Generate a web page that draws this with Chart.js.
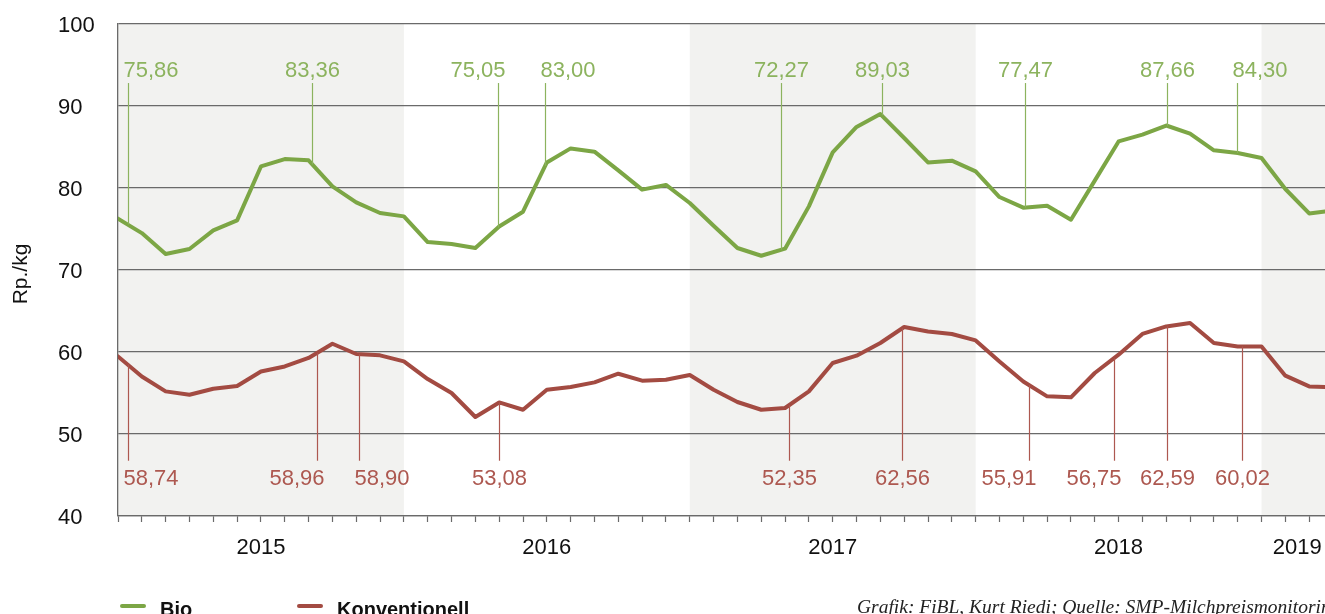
<!DOCTYPE html>
<html>
<head>
<meta charset="utf-8">
<script src="https://cdn.jsdelivr.net/npm/chart.js@4/dist/chart.umd.min.js"></script>
<style>
  html, body { margin: 0; padding: 0; background: #fff; overflow: hidden; width: 1325px; height: 614px; }
  #wrap { position: relative; width: 1325px; height: 614px; overflow: hidden; }
  canvas { position: absolute; left: 0; top: 0; }
  .leg { position: absolute; font-family: "Liberation Sans", Arial, sans-serif; font-weight: bold; font-size: 20px; line-height: 20px; color: #111; white-space: nowrap; }
  .sw { position: absolute; height: 4px; width: 26px; border-radius: 2px; }
  .src { position: absolute; left: 857px; top: 597px; font-family: "Liberation Serif", "DejaVu Serif", serif; font-style: italic; font-size: 19.5px; line-height: 20px; color: #222; white-space: nowrap; }
</style>
</head>
<body>
<div id="wrap">
  <canvas id="c" width="1346" height="614"></canvas>
  <div class="sw" style="left:120px; top:604px; background:#7ca645;"></div>
  <div class="leg" style="left:160px; top:599px;">Bio</div>
  <div class="sw" style="left:297px; top:604px; background:#a34b42;"></div>
  <div class="leg" style="left:337px; top:599px;">Konventionell</div>
  <div class="src">Grafik: FiBL, Kurt Riedi; Quelle: SMP-Milchpreismonitoring</div>
</div>
<script>
// Monthly milk prices (Rp./kg), January 2015 onward (index 0 = Jan 2015)
const bio = [76.26, 74.5, 71.95, 72.56, 74.83, 76.05, 82.63, 83.53, 83.37, 80.2, 78.25, 76.95,
             76.54, 73.41, 73.17, 72.68, 75.3, 77.11, 83.12, 84.83, 84.43, 82.15, 79.8, 80.37,
             78.17, 75.4, 72.68, 71.74, 72.6, 77.76, 84.35, 87.44, 89.02, 86.1, 83.12, 83.33,
             82.03, 78.9, 77.6, 77.84, 76.13, 80.9, 85.68, 86.5, 87.62, 86.62, 84.59, 84.27,
             83.66, 79.88, 76.9, 77.25];
const konventionell = [59.46, 57.02, 55.2, 54.79, 55.52, 55.85, 57.63, 58.24, 59.27, 61.01, 59.76, 59.59,
             58.85, 56.7, 55.0, 52.07, 53.85, 52.96, 55.4, 55.73, 56.3, 57.35, 56.5, 56.62,
             57.2, 55.4, 53.9, 52.96, 53.17, 55.2, 58.66, 59.55, 61.1, 63.05, 62.51, 62.2,
             61.41, 58.85, 56.41, 54.59, 54.47, 57.44, 59.67, 62.2, 63.12, 63.54, 61.1, 60.68,
             60.68, 57.11, 55.8, 55.7];

// Year labels and their month-index positions
const yearLabels = ['2015', '2016', '2017', '2018', '2019'];
const yearPos = [6, 18, 30, 42, 49.5];
// Shaded year bands (start month index, 12 months each)
const bandStarts = [0, 24, 48];

// Value annotations
const bioAnnX = [0.40, 8.16, 15.95, 17.93, 27.85, 32.05, 38.09, 44.03, 46.98];
const bioAnnText = ['75,86', '83,36', '75,05', '83,00', '72,27', '89,03', '77,47', '87,66', '84,30'];
const bioAnnAlign = ['left', 'center', 'right', 'left', 'center', 'center', 'center', 'center', 'left'];
const konvAnnX = [0.40, 8.34, 10.13, 16.01, 28.17, 32.92, 38.23, 41.80, 44.03, 47.19];
const konvAnnText = ['58,74', '58,96', '58,90', '53,08', '52,35', '62,56', '55,91', '56,75', '62,59', '60,02'];
const konvAnnAlign = ['left', 'right', 'left', 'center', 'center', 'center', 'right', 'right', 'center', 'center'];

const yTicks = [40, 50, 60, 70, 80, 90, 100];

const GREEN = '#7ca645', GREEN_T = '#8cb35e';
const RED = '#a34b42', RED_T = '#ad5850';
const GRID = '#6a6a6a';
const FONT = '"Liberation Sans", Arial, sans-serif';

function valAt(arr, x) {
  const i = Math.floor(x), t = x - i;
  if (i + 1 >= arr.length) return arr[arr.length - 1];
  return arr[i] * (1 - t) + arr[i + 1] * t;
}

const bandPlugin = {
  id: 'bands',
  beforeDraw(chart) {
    const { ctx, chartArea: a, scales: { x } } = chart;
    ctx.save();
    ctx.fillStyle = '#f2f2f0';
    bandStarts.forEach(s => {
      const x0 = x.getPixelForValue(s);
      const x1 = Math.min(x.getPixelForValue(s + 12), a.right);
      ctx.fillRect(x0, a.top, x1 - x0, a.bottom - a.top);
    });
    ctx.restore();
  }
};

const annPlugin = {
  id: 'ann',
  afterDatasetsDraw(chart) {
    const { ctx, scales: { x, y } } = chart;
    ctx.save();
    ctx.font = '22px ' + FONT;
    ctx.textBaseline = 'middle';
    ctx.lineWidth = 1.2;
    function draw(xs, texts, aligns, series, color, lineEndVal, labelVal) {
      xs.forEach((xv, i) => {
        const px = Math.round(x.getPixelForValue(xv)) + 0.5;
        const pyCurve = y.getPixelForValue(valAt(series, xv));
        const pyEnd = y.getPixelForValue(lineEndVal);
        ctx.strokeStyle = color;
        ctx.beginPath();
        ctx.moveTo(px, pyEnd);
        ctx.lineTo(px, pyCurve);
        ctx.stroke();
        ctx.fillStyle = color;
        let tx = px;
        if (aligns[i] === 'left') { ctx.textAlign = 'left'; tx = px - 5; }
        else if (aligns[i] === 'right') { ctx.textAlign = 'right'; tx = px + 7; }
        else { ctx.textAlign = 'center'; }
        ctx.fillText(texts[i], tx, y.getPixelForValue(labelVal));
      });
    }
    draw(bioAnnX, bioAnnText, bioAnnAlign, bio, GREEN_T, 92.8, 94.3);
    draw(konvAnnX, konvAnnText, konvAnnAlign, konventionell, RED_T, 46.74, 44.55);
    ctx.restore();
  }
};

const titlePlugin = {
  id: 'ytitle',
  afterDraw(chart) {
    const { ctx } = chart;
    ctx.save();
    ctx.translate(21, 274);
    ctx.rotate(-Math.PI / 2);
    ctx.font = '21px ' + FONT;
    ctx.fillStyle = '#111';
    ctx.textAlign = 'center';
    ctx.textBaseline = 'middle';
    ctx.fillText('Rp./kg', 0, 0);
    ctx.restore();
  }
};

new Chart(document.getElementById('c'), {
  type: 'line',
  data: {
    datasets: [
      { label: 'Bio', data: bio.map((v, i) => ({ x: i, y: v })), borderColor: GREEN, borderWidth: 4, pointRadius: 0, tension: 0, borderJoinStyle: 'round', borderCapStyle: 'round' },
      { label: 'Konventionell', data: konventionell.map((v, i) => ({ x: i, y: v })), borderColor: RED, borderWidth: 4, pointRadius: 0, tension: 0, borderJoinStyle: 'round', borderCapStyle: 'round' }
    ]
  },
  options: {
    responsive: false,
    animation: false,
    layout: { padding: { left: 58, top: 24, right: 0, bottom: 48 } },
    plugins: { legend: { display: false }, tooltip: { enabled: false } },
    scales: {
      x: {
        type: 'linear',
        min: 0,
        max: 51,
        afterBuildTicks(scale) {
          const t = [];
          for (let i = 0; i <= 51; i++) { t.push({ value: i }); if (i === 49) t.push({ value: 49.5 }); }
          scale.ticks = t;
        },
        afterFit(scale) { scale.height = 50; },
        ticks: {
          autoSkip: false,
          maxRotation: 0,
          minRotation: 0,
          padding: 13,
          color: '#111',
          font: { family: FONT, size: 22 },
          callback(value) {
            const k = yearPos.indexOf(value);
            return k >= 0 ? yearLabels[k] : '';
          }
        },
        grid: {
          display: true,
          drawOnChartArea: false,
          drawTicks: true,
          tickLength: 6,
          tickWidth: 1.2,
          tickColor: (ctx) => (ctx.tick && Number.isInteger(ctx.tick.value)) ? GRID : 'rgba(0,0,0,0)'
        },
        border: { display: true, color: GRID, width: 1.3 }
      },
      y: {
        min: 40,
        max: 100,
        afterBuildTicks(scale) { scale.ticks = yTicks.map(v => ({ value: v })); },
        afterFit(scale) { scale.width = 60; },
        ticks: {
          crossAlign: 'far',
          labelOffset: 2,
          color: '#111',
          font: { family: FONT, size: 22 }
        },
        grid: { color: GRID, lineWidth: 1.3, drawTicks: false },
        border: { display: true, color: GRID, width: 1.3 }
      }
    }
  },
  plugins: [bandPlugin, annPlugin, titlePlugin]
});
</script>
</body>
</html>
